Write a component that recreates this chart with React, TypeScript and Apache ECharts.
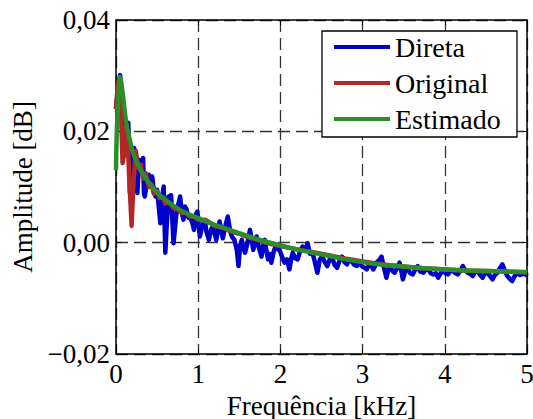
import React, { useEffect, useRef } from "react";
import * as echarts from "echarts";

const xTicks = [0, 1, 2, 3, 4, 5];
const yTicks = [-0.02, 0.0, 0.02, 0.04];
const seriesNames = ["Direta", "Original", "Estimado"];

const directaFreq = [
  0.0, 0.02, 0.05, 0.07, 0.09, 0.12, 0.15, 0.17, 0.2, 0.22, 0.24, 0.26, 0.28, 0.31, 0.33, 0.34, 0.35, 0.38, 0.4, 0.42,
  0.44, 0.46, 0.48, 0.5, 0.52, 0.54, 0.56, 0.58, 0.6, 0.62, 0.64, 0.67, 0.7, 0.72, 0.74, 0.76, 0.78, 0.8, 0.82, 0.84,
  0.86, 0.88, 0.9, 0.93, 0.95, 0.97, 0.99, 1.02, 1.05, 1.08, 1.1, 1.13, 1.16, 1.18, 1.22, 1.26, 1.3, 1.33, 1.36, 1.39,
  1.41, 1.44, 1.47, 1.49, 1.51, 1.53, 1.55, 1.57, 1.6, 1.63, 1.65, 1.67, 1.69, 1.71, 1.74, 1.77, 1.79, 1.81, 1.83, 1.85,
  1.87, 1.89, 1.92, 1.95, 1.97, 1.99, 2.02, 2.05, 2.08, 2.11, 2.13, 2.15, 2.18, 2.21, 2.24, 2.27, 2.3, 2.33, 2.36, 2.39,
  2.42, 2.45, 2.48, 2.51, 2.54, 2.57, 2.6, 2.63, 2.66, 2.69, 2.72, 2.75, 2.78, 2.81, 2.84, 2.87, 2.9, 2.93, 2.96, 2.99,
  3.02, 3.05, 3.08, 3.11, 3.13, 3.16, 3.18, 3.21, 3.23, 3.26, 3.29, 3.31, 3.33, 3.36, 3.39, 3.42, 3.45, 3.47, 3.49, 3.52,
  3.55, 3.58, 3.61, 3.64, 3.67, 3.7, 3.74, 3.77, 3.8, 3.83, 3.86, 3.89, 3.92, 3.95, 3.98, 4.01, 4.04, 4.07, 4.1, 4.13,
  4.16, 4.19, 4.22, 4.25, 4.28, 4.31, 4.34, 4.37, 4.4, 4.43, 4.46, 4.49, 4.52, 4.55, 4.58, 4.61, 4.64, 4.67, 4.7, 4.73,
  4.76, 4.79, 4.82, 4.85, 4.88, 4.91, 4.94, 4.97, 5.0,
];
const directaAmp = [
  0.024, 0.027, 0.0301, 0.025, 0.0188, 0.021, 0.0215, 0.0089, 0.015, 0.017, 0.0135, 0.0089, 0.0149, 0.013, 0.0152, 0.0089, 0.0083, 0.011, 0.0122, 0.0105,
  0.0119, 0.0095, 0.0083, 0.0095, 0.0065, 0.0035, 0.008, 0.0101, -0.0018, 0.004, 0.0083, 0.0085, -0.0001, 0.003, 0.0059, 0.007, 0.0083, 0.0055, 0.0041, 0.0065,
  0.0059, 0.0045, 0.0047, 0.0035, 0.0023, 0.005, 0.0056, 0.0011, 0.003, 0.0041, 0.002, 0.0005, 0.0025, 0.0029, 0.0005, 0.0038, 0.0008, 0.003, 0.0047, 0.002,
  0.0011, 0.0005, -0.0013, -0.0042, -0.0005, 0.0005, -0.001, -0.0018, 0.0, 0.0023, 0.0005, -0.0013, -0.0002, 0.0011, -0.001, -0.0025, -0.0005, 0.0005, -0.0015, -0.003,
  -0.002, -0.0036, -0.0015, -0.0004, -0.0012, -0.0013, -0.0025, -0.0036, -0.003, -0.0048, -0.003, -0.0018, -0.0028, -0.003, -0.0015, -0.0007, -0.0015, -0.0001, -0.002, -0.0018,
  -0.0035, -0.0054, -0.003, -0.0025, -0.0035, -0.0042, -0.003, -0.0027, -0.004, -0.0045, -0.0032, -0.0025, -0.0035, -0.0039, -0.003, -0.0034, -0.004, -0.0042, -0.0035, -0.0042,
  -0.0045, -0.0048, -0.004, -0.0042, -0.0048, -0.004, -0.0034, -0.003, -0.0025, -0.0045, -0.0063, -0.005, -0.0042, -0.005, -0.0054, -0.0045, -0.0036, -0.005, -0.0066, -0.005,
  -0.0048, -0.0055, -0.0057, -0.0048, -0.0042, -0.0052, -0.0054, -0.0048, -0.0048, -0.0055, -0.0057, -0.0055, -0.0063, -0.0055, -0.0051, -0.0055, -0.0057, -0.005, -0.0051, -0.0055,
  -0.0057, -0.005, -0.0042, -0.005, -0.0054, -0.0056, -0.006, -0.0052, -0.0051, -0.0058, -0.0063, -0.0055, -0.0054, -0.006, -0.0066, -0.0058, -0.0054, -0.0046, -0.0039, -0.005,
  -0.006, -0.0065, -0.0069, -0.006, -0.0054, -0.0058, -0.0057, -0.0054, -0.006,
];

const originalFreq = [
  0.0, 0.02, 0.04, 0.06, 0.08, 0.1, 0.12, 0.14, 0.16, 0.19, 0.21, 0.24, 0.27, 0.3, 0.33, 0.36, 0.4, 0.43, 0.46, 0.5,
  0.53, 0.57, 0.6, 0.65, 0.7, 0.75, 0.8, 0.85, 0.9, 0.95, 1.0, 1.1, 1.2, 1.3, 1.4, 1.5, 1.6, 1.7, 1.8, 1.9,
  2.0, 2.2, 2.4, 2.6, 2.8, 3.0, 3.25, 3.5, 3.75, 4.0, 4.25, 4.5, 4.75, 5.0,
];
const originalAmp = [
  0.024, 0.028, 0.0295, 0.024, 0.0143, 0.016, 0.021, 0.019, 0.012, 0.003, 0.01, 0.0165, 0.0135, 0.014, 0.0115, 0.0125, 0.01, 0.0105, 0.0088, 0.0093,
  0.008, 0.0082, 0.007, 0.0072, 0.0062, 0.006, 0.0053, 0.0054, 0.0047, 0.0047, 0.0041, 0.004, 0.003, 0.0027, 0.002, 0.0016, 0.001, 0.0006, 0.0001, -0.0003,
  -0.0006, -0.0012, -0.0017, -0.0023, -0.0029, -0.0034, -0.0039, -0.0043, -0.0046, -0.0048, -0.005, -0.0051, -0.0052, -0.0053,
];

const estimadoFreq = [
  0.0, 0.01, 0.03, 0.05, 0.08, 0.12, 0.16, 0.2, 0.25, 0.3, 0.4, 0.5, 0.6, 0.7, 0.8, 0.9, 1.0, 1.2, 1.4, 1.6,
  1.8, 2.0, 2.2, 2.4, 2.6, 2.8, 3.0, 3.25, 3.5, 3.75, 4.0, 4.25, 4.5, 4.75, 5.0,
];
const estimadoAmp = [
  0.013, 0.02, 0.026, 0.0298, 0.027, 0.022, 0.019, 0.0165, 0.0145, 0.013, 0.0108, 0.009, 0.0077, 0.0066, 0.0057, 0.005, 0.0044, 0.0032, 0.0022, 0.0012,
  0.0003, -0.0005, -0.0012, -0.0018, -0.0024, -0.003, -0.0035, -0.004, -0.0043, -0.0046, -0.0048, -0.005, -0.0051, -0.0052, -0.0053,
];

const FONT = "Liberation Serif";

function pairs(xs: number[], ys: number[]) {
  return xs.map((x, i) => [x, ys[i]]);
}

function fmtY(v: number) {
  if (Math.abs(v) < 1e-9) return "0,00";
  const s = Math.abs(v).toFixed(2).replace(".", ",");
  return v < 0 ? "\u2212" + s : s;
}

export default function App() {
  const ref = useRef<HTMLDivElement>(null);
  useEffect(() => {
    const chart = echarts.init(ref.current!, null, { renderer: "svg" });
    const axisLine = { show: true, onZero: false, lineStyle: { color: "#000", width: 1.5 } };
    const tick = { show: true, inside: true, length: 5, lineStyle: { color: "#000", width: 1 } };
    const split = { show: true, lineStyle: { color: "#333", width: 1.3, type: [12, 6] as any } };
    const xMin = xTicks[0];
    const xMax = xTicks[xTicks.length - 1];
    const yMin = yTicks[0];
    const yMax = yTicks[yTicks.length - 1];
    chart.setOption({
      animation: false,
      backgroundColor: "#fff",
      grid: { left: 116, right: 6, top: 20, bottom: 65, containLabel: false, outerBoundsMode: "none" },
      graphic: [
        {
          type: "rect",
          z: 3,
          shape: { x: 322, y: 31, width: 195, height: 106 },
          style: { fill: "#fff", stroke: "#000", lineWidth: 1.3 },
        },
      ],
      legend: {
        show: true,
        z: 10,
        orient: "vertical",
        left: 322,
        top: 31,
        data: seriesNames,
        icon: "rect",
        itemWidth: 56,
        itemHeight: 4,
        itemGap: 8,
        padding: [2, 5, 5, 12],
        backgroundColor: "transparent",
        borderWidth: 0,
        textStyle: { fontFamily: FONT, fontSize: 28, color: "#000", lineHeight: 28 },
      },
      xAxis: [
        {
          type: "value",
          min: xMin,
          max: xMax,
          interval: 1,
          position: "bottom",
          name: "Frequência [kHz]",
          nameLocation: "middle",
          nameGap: 38,
          nameTextStyle: { fontFamily: FONT, fontSize: 27, color: "#000" },
          axisLine,
          axisTick: tick,
          splitLine: split,
          axisLabel: { fontFamily: FONT, fontSize: 27, color: "#000", margin: 6 },
        },
        {
          type: "value",
          min: xMin,
          max: xMax,
          interval: 1,
          position: "top",
          axisLine,
          axisTick: tick,
          splitLine: { show: false },
          axisLabel: { show: false },
        },
      ],
      yAxis: [
        {
          type: "value",
          min: yMin,
          max: yMax,
          interval: 0.02,
          position: "left",
          name: "Amplitude [dB]",
          nameLocation: "middle",
          nameGap: 77,
          nameRotate: 90,
          nameTextStyle: { fontFamily: FONT, fontSize: 27, color: "#000" },
          axisLine,
          axisTick: tick,
          splitLine: split,
          axisLabel: { fontFamily: FONT, fontSize: 27, color: "#000", margin: 6, formatter: fmtY },
        },
        {
          type: "value",
          min: yMin,
          max: yMax,
          interval: 0.02,
          position: "right",
          axisLine,
          axisTick: tick,
          splitLine: { show: false },
          axisLabel: { show: false },
        },
      ],
      series: [
        {
          name: seriesNames[0],
          type: "line",
          xAxisIndex: 0,
          yAxisIndex: 0,
          showSymbol: false,
          symbol: "none",
          color: "#0000cc",
          lineStyle: { color: "#0000cc", width: 4.5, join: "round" },
          data: pairs(directaFreq, directaAmp),
        },
        {
          name: seriesNames[1],
          type: "line",
          xAxisIndex: 0,
          yAxisIndex: 0,
          showSymbol: false,
          symbol: "none",
          color: "#b52626",
          lineStyle: { color: "#b52626", width: 4.5, join: "round" },
          data: pairs(originalFreq, originalAmp),
        },
        {
          name: seriesNames[2],
          type: "line",
          xAxisIndex: 0,
          yAxisIndex: 0,
          showSymbol: false,
          symbol: "none",
          smooth: 0.3,
          color: "#2a8f2a",
          lineStyle: { color: "#2a8f2a", width: 4.5, join: "round" },
          data: pairs(estimadoFreq, estimadoAmp),
        },
      ],
    });
    return () => chart.dispose();
  }, []);
  return (
    <div
      ref={ref}
      style={{ position: "fixed", left: 0, top: 0, width: 533, height: 419, background: "#fff" }}
    />
  );
}
